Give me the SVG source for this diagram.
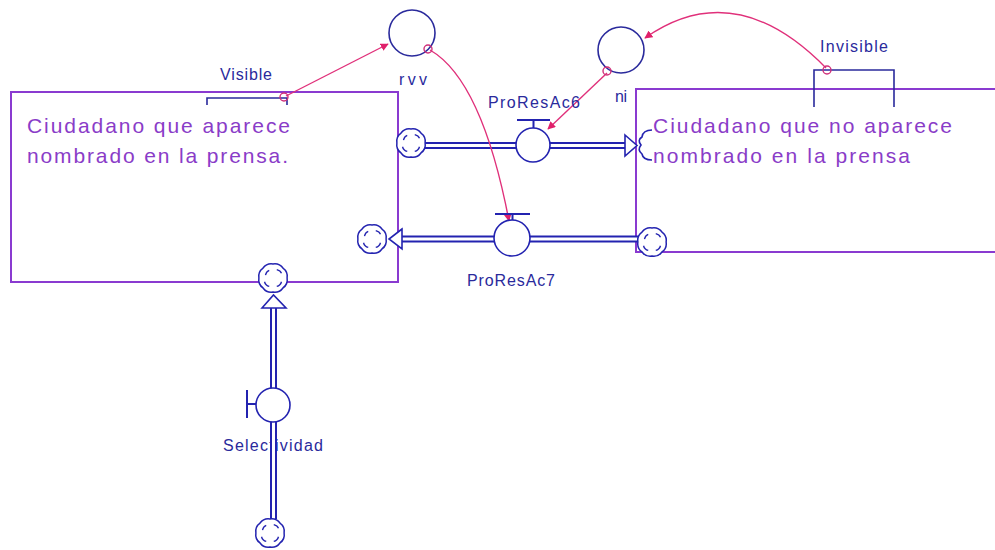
<svg xmlns="http://www.w3.org/2000/svg" width="995" height="550" viewBox="0 0 995 550">
<style>
.stock{fill:none;stroke:#8a3ad0;stroke-width:2}
.stxt{font-family:"Liberation Sans",Arial,sans-serif;font-size:21px;fill:#8a3cc8}
.lbl{font-family:"Liberation Sans",Arial,sans-serif;font-size:16px;fill:#2a2a9c}
.pipeo{stroke:#2323b0;stroke-width:7;fill:none}
.pipei{stroke:#ffffff;stroke-width:3;fill:none}
.valve{fill:#fff;stroke:#2323b0;stroke-width:1.6}
.bar{fill:none;stroke:#2323b0;stroke-width:2}
.aux{fill:#fff;stroke:#2a2a9c;stroke-width:1.6}
.link{fill:none;stroke:#e0307a;stroke-width:1.4}
.dot{fill:none;stroke:#d0307a;stroke-width:1.4}
.head{fill:#fff;stroke:#2323b0;stroke-width:1.6}
.brk{fill:none;stroke:#2a2a9c;stroke-width:1.6}
</style>
<defs>
<marker id="ah" viewBox="0 0 10 10" refX="9" refY="5" markerWidth="8" markerHeight="8" markerUnits="userSpaceOnUse" orient="auto">
<path d="M0,0 L10,5 L0,10 z" fill="#e0206a"/>
</marker>
<symbol id="cloud" viewBox="-17 -17 34 34" overflow="visible">
<path d="M15,0 A11,11 0 0 1 10.6,10.6 A11,11 0 0 1 0,15 A11,11 0 0 1 -10.6,10.6 A11,11 0 0 1 -15,0 A11,11 0 0 1 -10.6,-10.6 A11,11 0 0 1 0,-15 A11,11 0 0 1 10.6,-10.6 A11,11 0 0 1 15,0 z" fill="#fff" stroke="#2323b0" stroke-width="1.6"/>
<path d="M-8,-3 q1,-4 4,-5 M4,-9 q4,1 5,4 M9,4 q-1,4 -5,5 M-4,9 q-4,-1 -5,-5" fill="none" stroke="#2323b0" stroke-width="1.4"/>
</symbol>
</defs>

<g id="stock-aparece">
<rect class="stock" x="11" y="92" width="387" height="190"/>
<text class="stxt" x="27" y="133" textLength="263" lengthAdjust="spacing">Ciudadano que aparece</text>
<text class="stxt" x="27" y="163" textLength="261" lengthAdjust="spacing">nombrado en la prensa.</text>
</g>

<g id="stock-no-aparece">
<rect class="stock" x="636" y="89" width="365" height="163"/>
<text class="stxt" x="653" y="133" textLength="299" lengthAdjust="spacing">Ciudadano que no aparece</text>
<text class="stxt" x="653" y="163" textLength="257" lengthAdjust="spacing">nombrado en la prensa</text>
</g>

<g id="visible">
<text class="lbl" x="220" y="80" textLength="52" lengthAdjust="spacing">Visible</text>
<path class="brk" d="M207,105 V98 H287 V105"/>
</g>

<g id="invisible">
<text class="lbl" x="820" y="52" textLength="68" lengthAdjust="spacing">Invisible</text>
<path class="brk" d="M814,107 V70 H894 V107"/>
</g>

<g id="rvv">
<circle class="aux" cx="412" cy="33" r="23"/>
<text class="lbl" x="399" y="85" textLength="28" lengthAdjust="spacing">rvv</text>
</g>

<g id="ni">
<circle class="aux" cx="621" cy="50" r="23"/>
<text class="lbl" x="615" y="102" textLength="12" lengthAdjust="spacing">ni</text>
</g>

<g id="connectors">
<!-- ProResAc6 flow pipe -->
<line class="pipeo" x1="425" y1="145.5" x2="626" y2="145.5"/>
<line class="pipei" x1="425" y1="145.5" x2="627" y2="145.5"/>
<polygon class="head" points="625,135 637,145.5 625,156"/>
<path d="M652,130 q-9,0 -10,7 q-5,3 -1,8 q-4,5 1,9 q1,6 10,6" fill="none" stroke="#2323b0" stroke-width="1.6"/>
<!-- ProResAc7 flow pipe -->
<line class="pipeo" x1="640" y1="239" x2="401" y2="239"/>
<line class="pipei" x1="640" y1="239" x2="400" y2="239"/>
<polygon class="head" points="402,229 389,239 402,249"/>
<!-- Selectividad flow pipe -->
<line class="pipeo" x1="273.5" y1="519" x2="273.5" y2="307"/>
<line class="pipei" x1="273.5" y1="519" x2="273.5" y2="306"/>
<polygon class="head" points="262,308 273.5,295 286,308"/>
<!-- information links -->
<line class="link" x1="286" y1="96" x2="388" y2="44" marker-end="url(#ah)"/>
<path class="link" d="M430,50 Q482,80 509,221" marker-end="url(#ah)"/>
<path class="link" d="M607,73 L548,129" marker-end="url(#ah)"/>
<path class="link" d="M826,68 Q735,-25 645,38" marker-end="url(#ah)"/>
<circle class="dot" cx="284" cy="97" r="4"/>
<circle class="dot" cx="428" cy="49" r="4"/>
<circle class="dot" cx="607" cy="71" r="4"/>
<circle class="dot" cx="827" cy="70" r="4"/>
</g>

<g id="cloud-top-left"><use href="#cloud" x="395" y="127" width="32" height="32"/></g>
<g id="cloud-lower-left"><use href="#cloud" x="356" y="223" width="32" height="32"/></g>
<g id="cloud-lower-right"><use href="#cloud" x="636" y="226" width="32" height="32"/></g>
<g id="cloud-selectividad-top"><use href="#cloud" x="257" y="262" width="32" height="32"/></g>
<g id="cloud-selectividad-bottom"><use href="#cloud" x="254" y="517" width="32" height="32"/></g>

<g id="ProResAc6">
<path class="bar" d="M517,120 H550 M533.5,120 V128"/>
<circle class="valve" cx="533" cy="145" r="17"/>
<text class="lbl" x="488" y="108" textLength="92" lengthAdjust="spacing">ProResAc6</text>
</g>

<g id="ProResAc7">
<path class="bar" d="M495,214 H530 M512.5,214 V221"/>
<circle class="valve" cx="512" cy="238" r="18"/>
<text class="lbl" x="467" y="286" textLength="88" lengthAdjust="spacing">ProResAc7</text>
</g>

<g id="Selectividad">
<text class="lbl" x="223" y="451" textLength="100" lengthAdjust="spacing">Selectividad</text>
<line class="pipeo" x1="273.5" y1="425" x2="273.5" y2="460"/>
<line class="pipei" x1="273.5" y1="424" x2="273.5" y2="461"/>
<path class="bar" d="M247,390 V418 M247,404 H256"/>
<circle class="valve" cx="273" cy="405" r="17"/>
</g>
</svg>
